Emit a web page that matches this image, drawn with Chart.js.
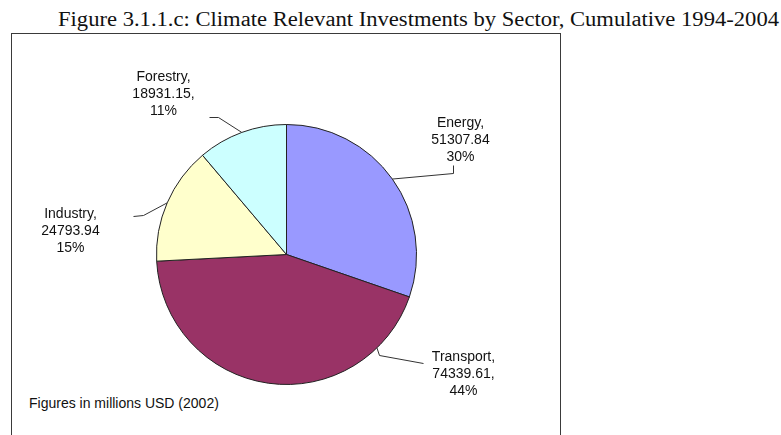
<!DOCTYPE html>
<html>
<head>
<meta charset="utf-8">
<script src="https://cdn.jsdelivr.net/npm/chart.js@4/dist/chart.umd.min.js"></script>
<style>
  body { margin: 0; background: #fff; width: 781px; height: 435px; overflow: hidden; position: relative; }
  #title { position: absolute; left: 58px; top: 8px; font-family: 'Liberation Serif', 'Times New Roman', serif; font-size: 20px; color: #111; white-space: nowrap; transform-origin: 0 0; }
  #box { position: absolute; left: 11px; top: 33px; width: 548px; height: 420px; border: 1px solid #3a3a3a; }
  #note { position: absolute; left: 29px; top: 395px; font-family: 'Liberation Sans', Arial, sans-serif; font-size: 14px; color: #111; white-space: nowrap; }
  #myChart { position: absolute; left: 0; top: 0; }
</style>
</head>
<body>
<div id="title">Figure 3.1.1.c: Climate Relevant Investments by Sector, Cumulative 1994-2004</div>
<div id="box"></div>
<div id="note">Figures in millions USD (2002)</div>
<canvas id="myChart" width="781" height="435"></canvas>
<script>
// sectors, in the order the slices run clockwise from 12 o'clock
var sectors = ['Energy', 'Transport', 'Industry', 'Forestry'];
var investments = [51307.84, 74339.61, 24793.94, 18931.15];
// the source labels are not consistent about the comma after the value
var valueSeps = ['', ',', '', ','];
var sliceColors = ['#9999FF', '#993366', '#FFFFCC', '#CCFFFF'];

var total = investments.reduce((a, b) => a + b, 0);

// label layout, relative to pie centre (px)
var labelLayout = [
  { frac: 0.5, path: [[167, -81], [167, -89]], x: 174, y: -131 },
  { frac: 0.17, path: [[93, 101], [137, 109]], x: 177, y: 103 },
  { frac: 0.5, path: [[-143, -39], [-153, -38]], x: -216, y: -40 },
  { frac: 0.5, path: [[-68, -137], [-77, -137]], x: -123, y: -177 }
];

const sliceLabels = {
  id: 'sliceLabels',
  afterDatasetsDraw(chart) {
    const ctx = chart.ctx;
    const meta = chart.getDatasetMeta(0);
    ctx.save();
    meta.data.forEach((arc, i) => {
      const p = arc.getProps(['x', 'y', 'startAngle', 'endAngle', 'outerRadius'], true);
      const lay = labelLayout[i];
      const a = p.startAngle + (p.endAngle - p.startAngle) * lay.frac;
      ctx.beginPath();
      ctx.moveTo(p.x + Math.cos(a) * p.outerRadius, p.y + Math.sin(a) * p.outerRadius);
      lay.path.forEach(pt => ctx.lineTo(p.x + pt[0], p.y + pt[1]));
      ctx.strokeStyle = '#333';
      ctx.lineWidth = 1;
      ctx.stroke();

      const lines = [
        sectors[i] + ',',
        investments[i].toFixed(2) + valueSeps[i],
        Math.round(investments[i] / total * 100) + '%'
      ];
      ctx.font = '14px "Liberation Sans", Arial, sans-serif';
      ctx.fillStyle = '#111';
      ctx.textAlign = 'center';
      ctx.textBaseline = 'middle';
      lines.forEach((t, k) => ctx.fillText(t, p.x + lay.x, p.y + lay.y + k * 17));
    });
    ctx.restore();
  }
};

const myChart = new Chart(document.getElementById('myChart'), {
  type: 'pie',
  data: {
    labels: sectors,
    datasets: [{
      data: investments,
      backgroundColor: sliceColors,
      borderColor: '#222',
      borderWidth: 1
    }]
  },
  options: {
    responsive: false,
    animation: false,
    layout: { padding: { left: 156, right: 364, top: 124, bottom: 50 } },
    plugins: {
      legend: { display: false },
      tooltip: { enabled: false }
    }
  },
  plugins: [sliceLabels]
});

// stretch the title to the width it has in the figure
var t = document.getElementById('title');
t.style.transform = 'scaleX(' + (721 / t.getBoundingClientRect().width) + ')';
</script>
</body>
</html>
